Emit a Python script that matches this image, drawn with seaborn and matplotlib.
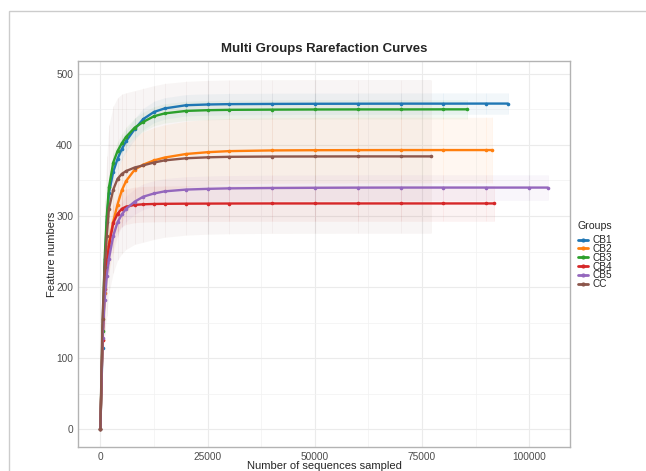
import pandas as pd
import matplotlib
matplotlib.use('Agg')
import matplotlib.pyplot as plt
import seaborn as sns
import numpy as np
from matplotlib.lines import Line2D
from matplotlib.patches import Rectangle
from matplotlib.ticker import MultipleLocator

sns.set_style('white')
plt.rcParams['font.family'] = ['Liberation Sans', 'DejaVu Sans']

# --- datos ---
groups = ['CB1', 'CB2', 'CB3', 'CB4', 'CB5', 'CC']
colors = ['#1f77b4', '#ff7f0e', '#2ca02c', '#d62728', '#9467bd', '#8c564b']

cb1_depth = [0, 500, 1000, 1500, 2000, 3000, 4000, 5000, 6000, 8000, 10000, 12500, 15000,
             20000, 25000, 30000, 40000, 50000, 60000, 70000, 80000, 90000, 95000]
cb1_mean = [0, 115, 225, 292, 332, 362, 380, 394, 405, 422, 436, 446, 451,
            455.5, 456.5, 457, 457.3, 457.5, 457.6, 457.7, 457.7, 457.8, 457.8]
cb1_sd = [0, 8, 12, 14, 15, 15, 15, 15, 15, 15, 15, 15, 15,
          15, 15, 15, 15, 15, 15, 15, 15, 15, 15]

cb2_depth = [0, 500, 1000, 1500, 2000, 3000, 4000, 5000, 6000, 8000, 10000, 12500, 15000,
             20000, 25000, 30000, 40000, 50000, 60000, 70000, 80000, 90000, 91300]
cb2_mean = [0, 125, 192, 236, 262, 292, 316, 336, 349, 365, 372, 378, 382,
            387, 389.5, 391, 392, 392.3, 392.4, 392.5, 392.5, 392.5, 392.5]
cb2_sd = [0, 25, 35, 40, 42, 44, 45, 46, 46, 46, 46, 46, 46,
          46, 46, 46, 46, 46, 46, 46, 46, 46, 46]

cb3_depth = [0, 500, 1000, 1500, 2000, 3000, 4000, 5000, 6000, 8000, 10000, 12500, 15000,
             20000, 25000, 30000, 40000, 50000, 60000, 70000, 80000, 85500]
cb3_mean = [0, 138, 240, 300, 340, 375, 391, 402, 411, 424, 432, 440, 444,
            447.5, 448.5, 449, 449.3, 449.5, 449.6, 449.6, 449.7, 449.7]
cb3_sd = [0, 7, 10, 12, 13, 13.5, 13.5, 13.5, 13.5, 13.5, 13.5, 13.5, 13.5,
          13.5, 13.5, 13.5, 13.5, 13.5, 13.5, 13.5, 13.5, 13.5]

cb4_depth = [0, 500, 1000, 1500, 2000, 3000, 4000, 5000, 6000, 8000, 10000, 12500, 15000,
             20000, 25000, 30000, 40000, 50000, 60000, 70000, 80000, 90000, 91800]
cb4_mean = [0, 125, 198, 234, 258, 290, 303, 310, 313, 315.5, 316.3, 316.8, 317,
            317.2, 317.3, 317.4, 317.5, 317.5, 317.5, 317.5, 317.5, 317.5, 317.5]
cb4_sd = [0, 14, 19, 22, 24, 25, 25, 25, 25, 25, 25, 25, 25,
          25, 25, 25, 25, 25, 25, 25, 25, 25, 25]

cb5_depth = [0, 500, 1000, 1500, 2000, 3000, 4000, 5000, 6000, 8000, 10000, 12500, 15000,
             20000, 25000, 30000, 40000, 50000, 60000, 70000, 80000, 90000, 100000, 104300]
cb5_mean = [0, 128, 182, 216, 240, 272, 291, 302, 310, 320, 327, 331.5, 334.5,
            337, 338, 338.7, 339.2, 339.5, 339.7, 339.8, 339.8, 339.8, 339.8, 339.8]
cb5_sd = [0, 9, 13, 15, 16, 17, 18, 18, 18, 18, 18, 18, 18,
          18, 18, 18, 18, 18, 18, 18, 18, 18, 18, 18]

cc_depth = [0, 500, 1000, 1500, 2000, 3000, 4000, 5000, 6000, 8000, 10000, 12500, 15000,
            20000, 25000, 30000, 40000, 50000, 60000, 70000, 77000]
cc_mean = [0, 155, 228, 272, 310, 337, 352, 359, 363, 368, 371, 375, 378,
           381, 382.3, 383, 383.4, 383.5, 383.6, 383.6, 383.6]
cc_sd = [0, 60, 95, 112, 118, 117, 114, 112, 110, 108, 108, 108, 108,
         108, 108, 108, 108, 108, 108, 108, 108]

depths = [cb1_depth, cb2_depth, cb3_depth, cb4_depth, cb5_depth, cc_depth]
means = [cb1_mean, cb2_mean, cb3_mean, cb4_mean, cb5_mean, cc_mean]
sds = [cb1_sd, cb2_sd, cb3_sd, cb4_sd, cb5_sd, cc_sd]

x_ticks = [0, 25000, 50000, 75000, 100000]
y_ticks = [0, 100, 200, 300, 400, 500]

# tabla larga para seaborn
frames = []
for g, d, m, s in zip(groups, depths, means, sds):
    frames.append(pd.DataFrame({'group': g, 'depth': d, 'mean': m, 'sd': s}))
df = pd.concat(frames, ignore_index=True)
df['lo'] = df['mean'] - df['sd']
df['hi'] = df['mean'] + df['sd']

fig = plt.figure(figsize=(6.46, 4.71), dpi=100)
ax = fig.add_axes([78 / 646, 1 - 447 / 471, 492 / 646, 386 / 471])

# bandas de desviacion
for g, c in zip(groups, colors):
    sub = df[df['group'] == g]
    ax.fill_between(sub['depth'], sub['lo'], sub['hi'], color=c, alpha=0.055, lw=0, zorder=1)
    ax.vlines(sub['depth'], sub['lo'], sub['hi'], color=c, alpha=0.07, lw=0.5, zorder=1)

sns.lineplot(data=df, x='depth', y='mean', hue='group', hue_order=groups,
             palette=colors, estimator=None, sort=True, linewidth=1.7,
             marker='o', markersize=2.6, markeredgewidth=0, legend=False, ax=ax, zorder=3)

ax.set_xlim(-5215, 109515)
ax.set_ylim(-24.6, 517.6)
ax.set_xticks(x_ticks)
ax.set_xticklabels([str(v) for v in x_ticks])
ax.set_yticks(y_ticks)
ax.xaxis.set_minor_locator(MultipleLocator(12500))
ax.yaxis.set_minor_locator(MultipleLocator(50))
ax.grid(which='major', color='#ebebeb', lw=0.8, zorder=0)
ax.grid(which='minor', color='#f2f2f2', lw=0.5, zorder=0)
ax.set_axisbelow(True)
ax.tick_params(axis='both', which='major', length=2.5, width=0.6, color='#333333',
               labelsize=7.3, labelcolor='#4d4d4d', pad=1.0)
ax.tick_params(axis='both', which='minor', length=0)
for sp in ax.spines.values():
    sp.set_color('#b3b3b3')
    sp.set_linewidth(1.0)
ax.set_xlabel('')
ax.set_ylabel('')

fig.text(324 / 646, 1 - 49 / 471, 'Multi Groups Rarefaction Curves', ha='center', va='center',
         fontsize=9.5, fontweight='bold')
fig.text(324 / 646, 1 - 466 / 471, 'Number of sequences sampled', ha='center', va='center',
         fontsize=8)
fig.text(52 / 646, 1 - 254 / 471, 'Feature numbers', ha='center', va='center',
         fontsize=8, rotation=90)

handles = [Line2D([0], [0], color=c, lw=2, marker='o', markersize=2) for c in colors]
leg = fig.legend(handles, groups, title='Groups', loc='upper left',
                 bbox_to_anchor=(574 / 646, 1 - 217 / 471), frameon=False,
                 fontsize=7.2, title_fontsize=7.6, handlelength=0.95, handletextpad=0.5,
                 labelspacing=-0.12, borderaxespad=0)
leg._legend_box.align = 'left'
leg._legend_box.sep = 3

# marco exterior gris
fig.add_artist(Rectangle((9 / 646, -0.2), 1.2, 1.2 - 11 / 471, transform=fig.transFigure,
                         fill=False, ec='#cccccc', lw=1))

fig.savefig('out.png', dpi=100)
